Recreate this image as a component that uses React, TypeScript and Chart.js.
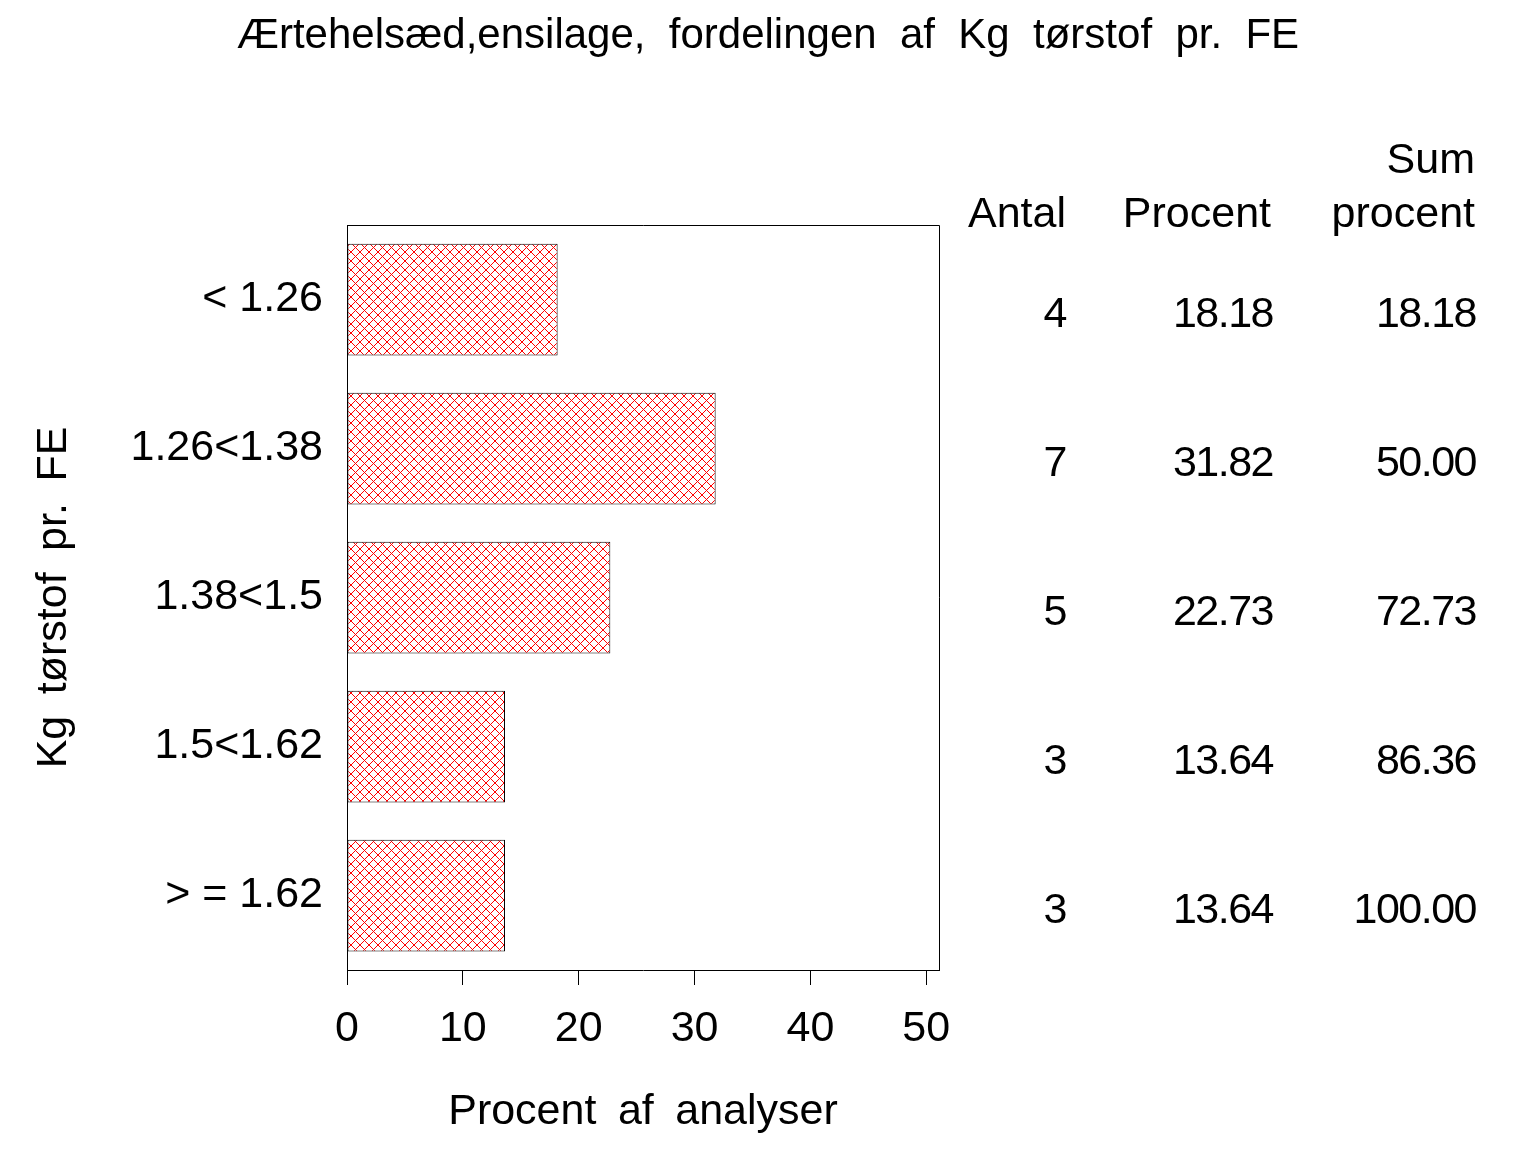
import { useEffect, useRef } from "react";
import { Chart, registerables } from "chart.js";

Chart.register(...registerables);

const FONT = "'Liberation Sans', Arial, Helvetica, sans-serif";

// data
const categories = ["< 1.26", "1.26<1.38", "1.38<1.5", "1.5<1.62", "> = 1.62"];
const antal = [4, 7, 5, 3, 3];
const procent = [18.18, 31.82, 22.73, 13.64, 13.64];
const sumProcent = [18.18, 50.0, 72.73, 86.36, 100.0];
const headerTop = ["", "", "Sum"];
const headerBottom = ["Antal", "Procent", "procent"];
const chartTitle = "Ærtehelsæd,ensilage,  fordelingen  af  Kg  tørstof  pr.  FE";

// red cross-hatch like the SAS fill
function makeHatch(ctx: CanvasRenderingContext2D) {
  const size = 9;
  const tile = document.createElement("canvas");
  tile.width = size;
  tile.height = size;
  const t = tile.getContext("2d")!;
  t.fillStyle = "#ffffff";
  t.fillRect(0, 0, size, size);
  t.fillStyle = "#ff0000";
  for (let i = 0; i < size; i++) {
    t.fillRect(i, i, 1, 1);
    t.fillRect(size - 1 - i, i, 1, 1);
  }
  return ctx.createPattern(tile, "repeat")!;
}

// frame round the plot area (top + right sides)
const framePlugin = {
  id: "frame",
  afterDraw(chart: any) {
    const { ctx, chartArea } = chart;
    ctx.save();
    ctx.strokeStyle = "#000";
    ctx.lineWidth = 1;
    ctx.beginPath();
    ctx.moveTo(chartArea.left, chartArea.top + 0.5);
    ctx.lineTo(chartArea.right + 0.5, chartArea.top + 0.5);
    ctx.lineTo(chartArea.right + 0.5, chartArea.bottom);
    ctx.stroke();
    ctx.restore();
  },
};

// page title, centred over the whole canvas (the built-in title is squeezed by the right padding)
const titlePlugin = {
  id: "pageTitle",
  afterDraw(chart: any) {
    const { ctx, width } = chart;
    ctx.save();
    ctx.font = `42px ${FONT}`;
    ctx.fillStyle = "#000";
    ctx.textAlign = "center";
    ctx.textBaseline = "alphabetic";
    ctx.fillText(chartTitle, width / 2, 48);
    ctx.restore();
  },
};

// Antal / Procent / Sum procent table at the right
const tablePlugin = {
  id: "sideTable",
  afterDraw(chart: any) {
    const { ctx } = chart;
    const yScale = chart.scales.y;
    ctx.save();
    ctx.font = `43px ${FONT}`;
    ctx.fillStyle = "#000";
    ctx.textAlign = "right";
    ctx.textBaseline = "alphabetic";
    const headCols = [1066, 1271, 1475];
    headCols.forEach((x, c) => {
      if (headerTop[c]) ctx.fillText(headerTop[c], x, 173);
      ctx.fillText(headerBottom[c], x, 227);
    });
    ctx.letterSpacing = "-1.5px";
    const cols = [1066, 1273, 1476];
    categories.forEach((_, i) => {
      const y = yScale.getPixelForValue(i) + 27;
      ctx.fillText(String(antal[i]), cols[0], y);
      ctx.fillText(procent[i].toFixed(2), cols[1], y);
      ctx.fillText(sumProcent[i].toFixed(2), cols[2], y);
    });
    ctx.restore();
  },
};

export default function App() {
  const canvasRef = useRef<HTMLCanvasElement>(null);
  const chartRef = useRef<Chart | null>(null);

  useEffect(() => {
    document.body.style.margin = "0";
    if (!canvasRef.current) return;
    const ctx = canvasRef.current.getContext("2d");
    if (!ctx) return;

    if (chartRef.current) chartRef.current.destroy();

    const tickFont = { family: FONT, size: 43, weight: "normal" as const };

    chartRef.current = new Chart(ctx, {
      type: "bar",
      data: {
        labels: categories,
        datasets: [
          {
            data: procent,
            backgroundColor: makeHatch(ctx),
            borderColor: "#000",
            borderWidth: 1,
            borderSkipped: false,
            barPercentage: 0.75,
            categoryPercentage: 1,
          },
        ],
      },
      options: {
        indexAxis: "y",
        responsive: false,
        animation: false,
        devicePixelRatio: 1,
        layout: { padding: { left: 0, right: 597, top: 225, bottom: 0 } },
        plugins: {
          legend: { display: false },
          tooltip: { enabled: false },
          title: { display: false },
        },
        scales: {
          x: {
            type: "linear",
            min: 0,
            max: 51.1,
            ticks: {
              stepSize: 10,
              includeBounds: false,
              color: "#000",
              font: tickFont,
              padding: 18,
              maxRotation: 0,
            },
            grid: {
              display: true,
              drawOnChartArea: false,
              drawTicks: true,
              tickLength: 15,
              color: "#000",
              lineWidth: 1,
            },
            border: { display: true, color: "#000", width: 1 },
            title: {
              display: true,
              text: "Procent\u2002af\u2002analyser",
              color: "#000",
              font: tickFont,
              padding: { top: 0, bottom: 14 },
            },
            afterFit: (s: any) => {
              s.height = 182;
            },
          },
          y: {
            type: "category",
            offset: true,
            grid: { display: false, drawTicks: false },
            border: { display: true, color: "#000", width: 1 },
            ticks: { color: "#000", font: tickFont, padding: 24 },
            title: {
              display: true,
              text: "Kg\u2002tørstof\u2002pr.\u2002FE",
              color: "#000",
              font: tickFont,
              padding: { top: 28, bottom: 0 },
            },
            afterFit: (s: any) => {
              s.width = 347;
            },
          },
        },
      },
      plugins: [framePlugin, titlePlugin, tablePlugin],
    });

    return () => {
      if (chartRef.current) {
        chartRef.current.destroy();
        chartRef.current = null;
      }
    };
  }, []);

  return (
    <div style={{ width: 1536, height: 1152, background: "#fff" }}>
      <canvas ref={canvasRef} width={1536} height={1152}></canvas>
    </div>
  );
}
